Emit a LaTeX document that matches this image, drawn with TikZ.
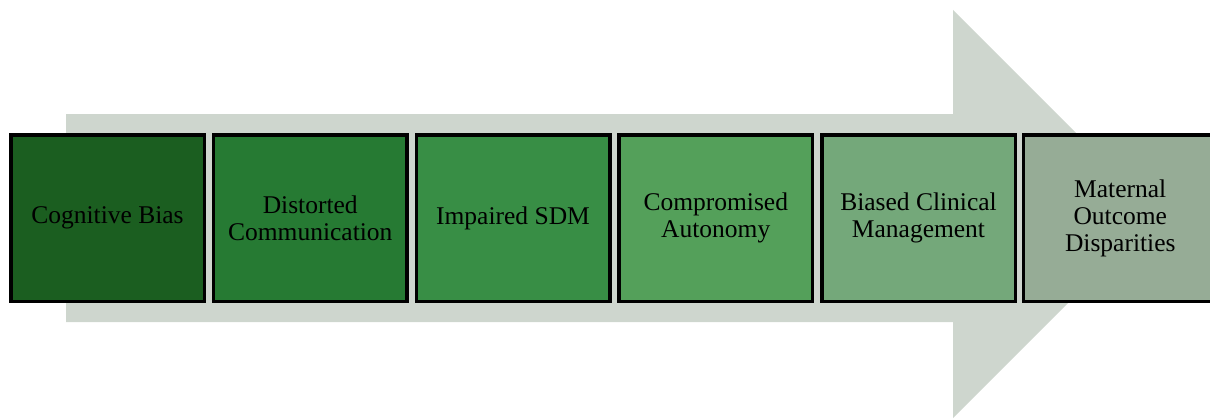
\documentclass[tikz,border=0pt]{standalone}
\usepackage{fontspec}
\setmainfont{Liberation Serif}
\definecolor{arrowbg}{HTML}{CED6CE}
\definecolor{cA}{HTML}{1B5E20}
\definecolor{cB}{HTML}{267A33}
\definecolor{cC}{HTML}{388E45}
\definecolor{cD}{HTML}{54A05A}
\definecolor{cE}{HTML}{74A87A}
\definecolor{cF}{HTML}{96AC96}
\begin{document}
\begin{tikzpicture}[x=1pt,y=-1pt,
  stagebox/.style={draw=black, line width=3.5pt, minimum width=193.5pt, minimum height=166.5pt,
    inner sep=0pt, outer sep=0pt, align=center, font=\fontsize{25.5}{27}\selectfont, text=black, anchor=north west}]
\useasboundingbox (0,0) rectangle (1210,420);
\fill[arrowbg] (66,114) -- (953,114) -- (953,10) -- (1157,214) -- (953,418) -- (953,322) -- (66,322) -- cycle;
\begin{scope}
\clip (0,0) rectangle (1210,420);
\node[stagebox, fill=cA] (s1) at (10.75,134.75) {Cognitive Bias};
\node[stagebox, fill=cB] (s2) at (213.5,134.75) {Distorted\\Communication};
\node[stagebox, fill=cC] (s3) at (416.25,134.75) {Impaired SDM};
\node[stagebox, fill=cD] (s4) at (619,134.75) {Compromised\\Autonomy};
\node[stagebox, fill=cE] (s5) at (821.75,134.75) {Biased Clinical\\Management};
\node[stagebox, fill=cF] (s6) at (1023.5,134.75) {Maternal\\Outcome\\Disparities};
\end{scope}
\end{tikzpicture}
\end{document}
